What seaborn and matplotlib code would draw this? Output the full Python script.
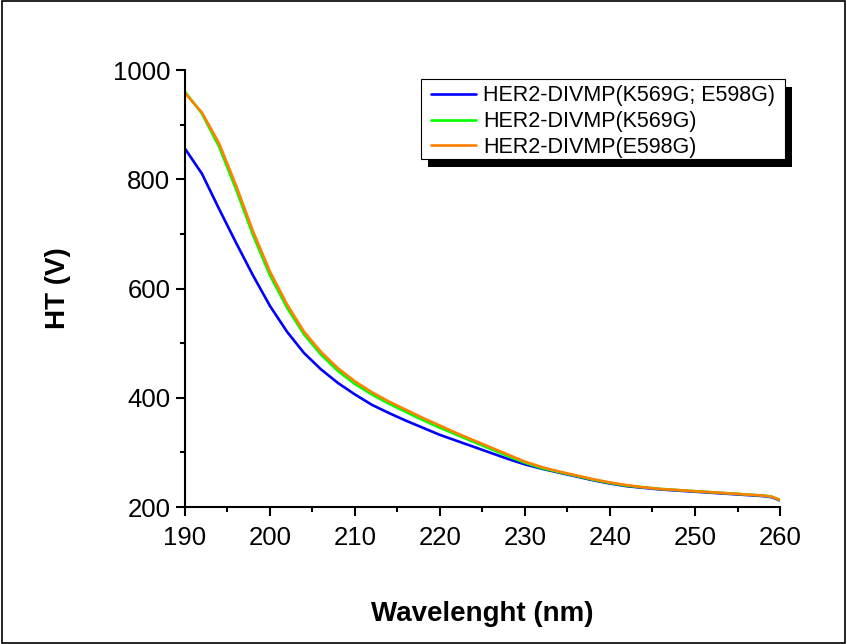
import matplotlib
matplotlib.use('Agg')
import matplotlib.pyplot as plt
import seaborn as sns
import pandas as pd
from matplotlib.patches import Rectangle
from matplotlib.ticker import MultipleLocator
from matplotlib.transforms import IdentityTransform

# ---------------------------------------------------------------------------
# Data
# ---------------------------------------------------------------------------

wavelength = [190, 192, 194, 196, 198, 200, 202, 204, 206, 208,
              210, 212, 214, 216, 218, 220, 222, 224, 226, 228,
              230, 232, 234, 236, 238, 240, 242, 244, 246, 248,
              250, 252, 254, 256, 258, 259, 260]

ht_double = [856, 810, 746, 684, 624, 568, 521, 482, 452, 427,
             406, 387, 372, 358, 345, 332, 321, 310, 299, 288,
             278, 270, 263, 256, 249, 243, 238, 235, 232, 230,
             228, 226, 224, 222, 220, 218, 212]

ht_k569g = [960, 920, 860, 782, 698, 624, 565, 516, 479, 449,
            425, 406, 389, 374, 359, 345, 332, 319, 306, 293,
            281, 271, 264, 257, 250, 244, 239, 236, 233, 231,
            229, 227, 225, 223, 221, 219, 213]

ht_e598g = [958, 922, 866, 789, 705, 631, 571, 521, 484, 454,
            430, 410, 393, 378, 363, 349, 335, 322, 309, 296,
            283, 273, 265, 258, 251, 245, 240, 236, 233, 231,
            229, 227, 225, 223, 221, 219, 213]

series_names = ["HER2-DIVMP(K569G; E598G)", "HER2-DIVMP(K569G)", "HER2-DIVMP(E598G)"]
series_colors = ["#0000FF", "#00FF00", "#FF8000"]

# ---------------------------------------------------------------------------
# Style
# ---------------------------------------------------------------------------

sns.set_style("ticks")
plt.rcParams["font.family"] = ["Liberation Sans", "DejaVu Sans"]
plt.rcParams["axes.linewidth"] = 1.5
plt.rcParams["text.color"] = "black"
plt.rcParams["axes.labelcolor"] = "black"
plt.rcParams["xtick.color"] = "black"
plt.rcParams["ytick.color"] = "black"
plt.rcParams["axes.edgecolor"] = "black"

frames = []
for name, vals in zip(series_names, [ht_double, ht_k569g, ht_e598g]):
    frames.append(pd.DataFrame({"wavelength": wavelength, "HT": vals, "sample": name}))
df = pd.concat(frames, ignore_index=True)

fig = plt.figure(figsize=(8.47, 6.44), dpi=100)
ax = fig.add_axes([0.2184, 0.2127, 0.7025, 0.6786])

sns.lineplot(
    data=df, x="wavelength", y="HT", hue="sample",
    hue_order=series_names, palette=series_colors,
    linewidth=1.9, ax=ax, sort=False,
)

ax.set_xlim(190, 260)
ax.set_ylim(200, 1000)
ax.xaxis.set_major_locator(MultipleLocator(10))
ax.xaxis.set_minor_locator(MultipleLocator(5))
ax.yaxis.set_major_locator(MultipleLocator(200))
ax.yaxis.set_minor_locator(MultipleLocator(100))
ax.tick_params(which="major", direction="out", length=6.5, width=1.5,
               labelsize=18.5, pad=4)
ax.tick_params(axis="x", which="major", pad=7)
ax.tick_params(which="minor", direction="out", length=3.5, width=1.5)
ax.spines["top"].set_visible(False)
ax.spines["right"].set_visible(False)

ax.set_xlabel("Wavelenght (nm)", fontsize=20, fontweight="bold", labelpad=37)
ax.set_ylabel("HT (V)", fontsize=20, fontweight="bold", labelpad=30)

# legend without its own frame; the Origin-style box is drawn below
leg = ax.legend(
    loc="upper right", bbox_to_anchor=(0.998, 0.9733),
    fontsize=15.5, frameon=False, handlelength=2.1, handletextpad=0.33,
    borderpad=0.17, labelspacing=0.22, borderaxespad=0,
)
leg.set_zorder(6)
for line in leg.get_lines():
    line.set_linewidth(1.9)

fig.canvas.draw()
bb = leg.get_window_extent()
pad_x = 6
x0, y0 = bb.x0 - pad_x, bb.y0 + 2.5
w, h = bb.width + 2 * pad_x, bb.height
shadow = Rectangle((x0 + 7, y0 - 8), w, h, transform=IdentityTransform(),
                   facecolor="black", edgecolor="none", zorder=4.5, clip_on=False)
box = Rectangle((x0, y0), w, h, transform=IdentityTransform(),
                facecolor="white", edgecolor="black", linewidth=0.8,
                zorder=5, clip_on=False)
ax.add_patch(shadow)
ax.add_patch(box)
ax.set_xlim(190, 260)
ax.set_ylim(200, 1000)

# thin frame around the whole picture
fig.add_artist(Rectangle((0.002, 0.002), 0.996, 0.996, transform=fig.transFigure,
                         fill=False, edgecolor="black", linewidth=1.2))

fig.savefig("out.png", dpi=100)
plt.close()
